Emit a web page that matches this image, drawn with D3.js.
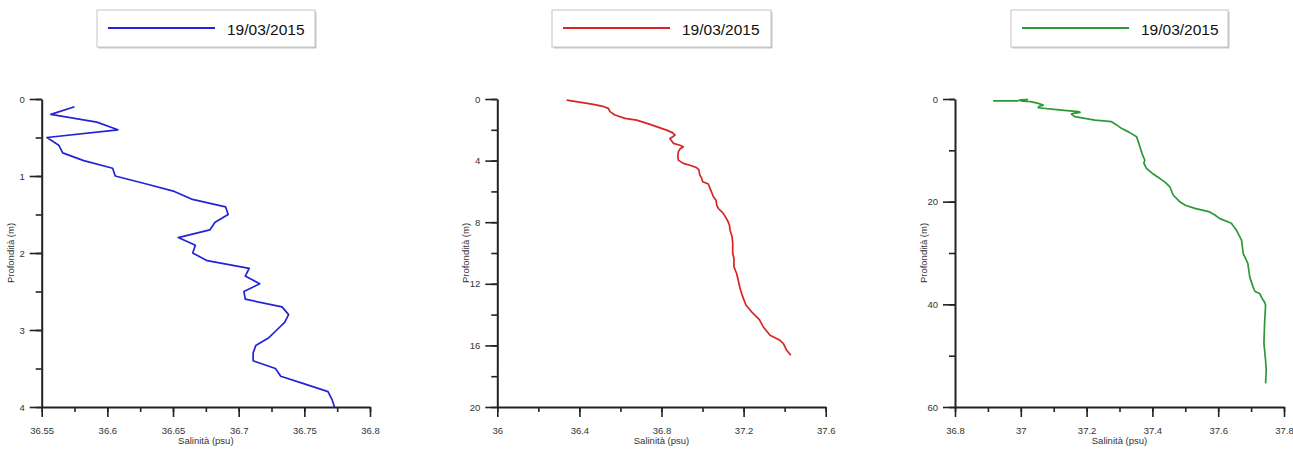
<!DOCTYPE html>
<html>
<head>
<meta charset="utf-8">
<script src="https://cdn.jsdelivr.net/npm/d3@7"></script>
<style>
  html, body { margin: 0; padding: 0; background: #fff; }
  svg { display: block; font-family: "Liberation Sans", Arial, sans-serif; }
</style>
</head>
<body>
<svg id="chart" width="1293" height="450"></svg>
<script>
// Salinity profiles, 19/03/2015 — three stations
const legendLabel = "19/03/2015";
const xTitle = "Salinità (psu)";
const yTitle = "Profondità (m)";

// Station 1 (blue)
const depth1 = [0.1,0.2,0.3,0.4,0.5,0.6,0.7,0.8,0.9,1.0,1.1,1.2,1.3,1.4,1.5,1.6,1.7,1.8,1.9,2.0,
                2.1,2.2,2.3,2.4,2.5,2.6,2.7,2.8,2.9,3.0,3.1,3.2,3.3,3.4,3.5,3.6,3.7,3.8,3.9,4.0];
const sal1 = [36.575,36.557,36.592,36.608,36.554,36.563,36.566,36.582,36.604,36.606,36.629,36.651,36.664,36.690,36.692,36.682,36.678,36.654,36.667,36.665,
              36.676,36.708,36.705,36.716,36.704,36.705,36.733,36.738,36.735,36.729,36.723,36.713,36.711,36.711,36.728,36.732,36.750,36.768,36.771,36.773];

// Station 2 (red)
const depth2 = [0.07,0.2,0.35,0.5,0.61,0.82,1.04,1.26,1.37,1.65,2.02,2.2,2.34,2.45,2.56,2.7,2.88,3.0,3.1,3.25,
                3.43,3.7,3.97,4.18,4.35,4.46,4.6,4.94,5.16,5.37,5.52,5.92,6.35,6.57,6.89,7.11,7.43,7.87,8.19,8.52,
                8.95,9.38,10.03,10.36,10.9,11.33,11.77,12.31,12.85,13.39,13.82,14.32,14.8,15.34,15.67,15.88,16.32,16.64];
const sal2 = [36.338,36.40,36.468,36.52,36.541,36.549,36.573,36.622,36.679,36.744,36.825,36.855,36.866,36.855,36.841,36.848,36.858,36.89,36.906,36.89,
              36.882,36.880,36.882,36.906,36.950,36.971,36.982,36.987,36.996,37.001,37.028,37.040,37.053,37.066,37.069,37.077,37.101,37.121,37.131,37.134,
              37.144,37.147,37.147,37.153,37.153,37.166,37.174,37.183,37.196,37.212,37.239,37.277,37.296,37.329,37.377,37.394,37.410,37.430];

// Station 3 (green)
const depth3 = [0.35,0.38,0.15,0.12,0.35,0.5,0.85,1.2,1.45,1.7,2.15,2.45,2.6,2.8,2.93,3.44,4.1,4.42,5.0,5.72,
                6.5,7.35,8.3,9.3,10.9,11.9,12.5,13.5,14.5,15.5,16.3,17.1,18.7,20.0,20.7,21.3,22.0,22.6,23.3,24.2,
                25.5,27.5,30.1,32.0,34.7,36.6,37.5,37.9,38.9,39.6,40.2,43.7,47.6,50.9,52.8,55.4];
const sal3 = [36.916,36.99,37.00,37.02,37.00,37.03,37.053,37.068,37.055,37.053,37.124,37.175,37.18,37.16,37.154,37.164,37.225,37.276,37.29,37.306,
              37.33,37.352,37.357,37.362,37.370,37.377,37.374,37.382,37.40,37.423,37.44,37.453,37.463,37.483,37.50,37.529,37.574,37.59,37.605,37.640,
              37.655,37.671,37.676,37.690,37.696,37.706,37.712,37.726,37.734,37.741,37.744,37.741,37.739,37.744,37.746,37.744];

// Axis ranges and tick steps per station
const xDomains = [[36.55, 36.8], [36, 37.6], [36.8, 37.8]];
const xMajor = [0.05, 0.4, 0.2];
const yDomains = [[0, 4], [0, 20], [0, 60]];
const yMajor = [1, 4, 20];
const colors = ["#2323d8", "#d82424", "#2a9a38"];

const panels = [
  { depth: depth1, sal: sal1, left: 41.7, right: 370, legend: [97, 315] },
  { depth: depth2, sal: sal2, left: 497.3, right: 825.7, legend: [552, 771] },
  { depth: depth3, sal: sal3, left: 955, right: 1284, legend: [1011, 1228] }
];

const plotTop = 99, plotBottom = 407;
const svg = d3.select("#chart");
const fmt = v => String(+v.toFixed(3));

function stepTicks(domain, step) {
  const n = Math.round((domain[1] - domain[0]) / step);
  return d3.range(n + 1).map(i => +(domain[0] + i * step).toFixed(6));
}

panels.forEach((p, i) => {
  const x = d3.scaleLinear().domain(xDomains[i]).range([p.left, p.right]);
  const y = d3.scaleLinear().domain(yDomains[i]).range([plotTop, plotBottom]);
  const g = svg.append("g");

  const majX = stepTicks(xDomains[i], xMajor[i]);
  const minX = stepTicks(xDomains[i], xMajor[i] / 2);
  const majY = stepTicks(yDomains[i], yMajor[i]);
  const minY = stepTicks(yDomains[i], yMajor[i] / 2);

  // minor ticks
  g.append("g").attr("transform", `translate(0,${plotBottom})`)
    .call(d3.axisBottom(x).tickValues(minX).tickSize(5).tickSizeOuter(0).tickFormat(""))
    .call(a => a.select(".domain").remove());
  g.append("g").attr("transform", `translate(${p.left},0)`)
    .call(d3.axisLeft(y).tickValues(minY).tickSize(6).tickSizeOuter(0).tickFormat(""))
    .call(a => a.select(".domain").remove());

  // major ticks with labels
  g.append("g").attr("transform", `translate(0,${plotBottom})`)
    .call(d3.axisBottom(x).tickValues(majX).tickSize(10).tickSizeOuter(0).tickPadding(10).tickFormat(fmt));
  g.append("g").attr("transform", `translate(${p.left},0)`)
    .call(d3.axisLeft(y).tickValues(majY).tickSize(12).tickSizeOuter(0).tickPadding(5).tickFormat(fmt));

  g.selectAll(".tick line").attr("stroke", "#222").attr("stroke-width", 1.6);
  g.selectAll(".domain").attr("stroke", "#222").attr("stroke-width", 2);
  g.selectAll(".tick text").attr("fill", "#333").attr("font-size", 9.5)
    .attr("font-family", "Liberation Sans, Arial, sans-serif");

  // axis titles
  g.append("text")
    .attr("x", (p.left + p.right) / 2).attr("y", 444)
    .attr("text-anchor", "middle").attr("font-size", 9.5).attr("fill", "#333")
    .text(xTitle);
  g.append("text")
    .attr("transform", `translate(${p.left - 28},${(plotTop + plotBottom) / 2}) rotate(-90)`)
    .attr("text-anchor", "middle").attr("font-size", 9.5).attr("fill", "#333")
    .text(yTitle);

  // profile line
  const pts = p.depth.map((d, k) => [p.sal[k], d]);
  g.append("path")
    .datum(pts)
    .attr("fill", "none")
    .attr("stroke", colors[i])
    .attr("stroke-width", 1.7)
    .attr("stroke-linejoin", "round")
    .attr("d", d3.line().x(d => x(d[0])).y(d => y(d[1])));

  // legend box
  const [lx0, lx1] = p.legend;
  const lg = g.append("g");
  lg.append("rect")
    .attr("x", lx0 + 1.5).attr("y", 11.5).attr("width", lx1 - lx0).attr("height", 37)
    .attr("fill", "#c8c8c8");
  lg.append("rect")
    .attr("x", lx0).attr("y", 10).attr("width", lx1 - lx0).attr("height", 37)
    .attr("fill", "#fff").attr("stroke", "#c4c4c4").attr("stroke-width", 1);
  lg.append("line")
    .attr("x1", lx0 + 11).attr("x2", lx0 + 118).attr("y1", 28).attr("y2", 28)
    .attr("stroke", colors[i]).attr("stroke-width", 2);
  lg.append("text")
    .attr("x", lx0 + 130).attr("y", 34.5)
    .attr("font-size", 15.5).attr("fill", "#111")
    .text(legendLabel);
});
</script>
</body>
</html>
